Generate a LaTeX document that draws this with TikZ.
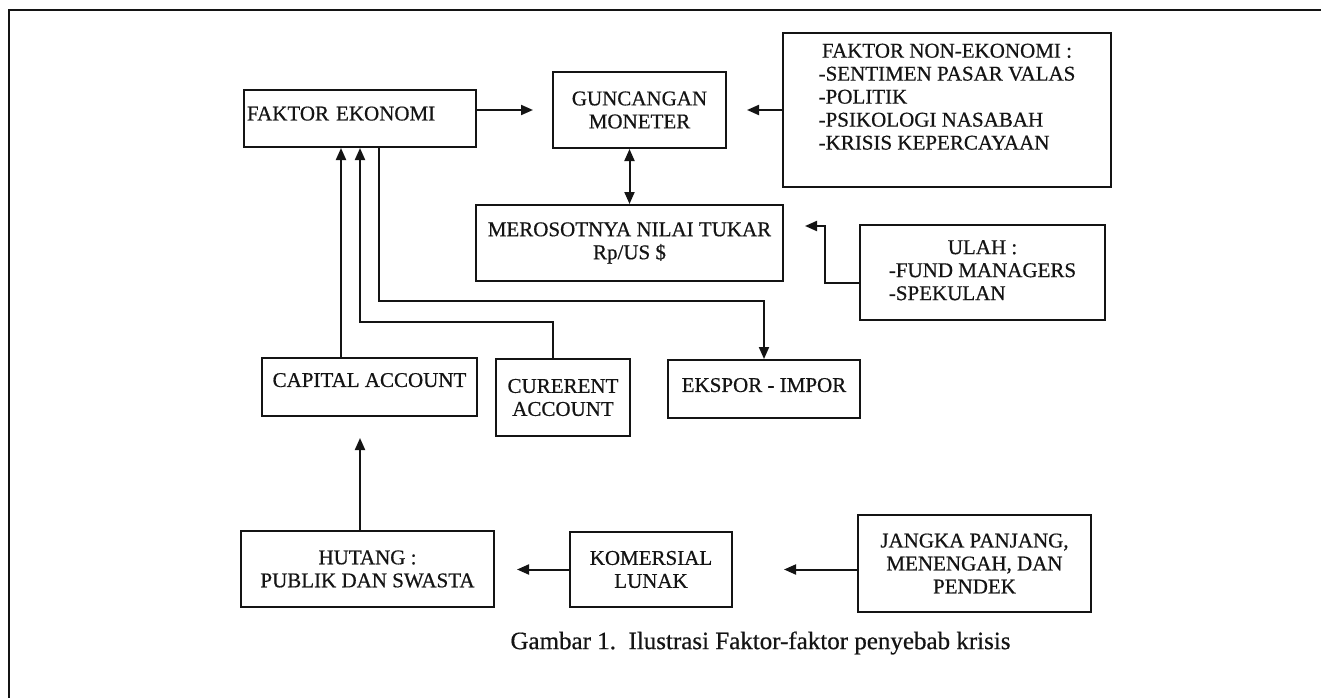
\documentclass[tikz,border=0pt]{standalone}
\usepackage{fontspec}
\setmainfont{Liberation Serif}[FakeBold=0.6]
\usetikzlibrary{arrows.meta}
\definecolor{inkblack}{RGB}{20, 20, 20}
\newcommand{\boxfont}{\fontsize{21}{23}\selectfont}
\newcommand{\capfont}{\fontsize{25}{28}\selectfont}
\tikzset{
  >=Triangle,
  box/.style={draw=inkblack, line width=2pt, inner sep=3pt, align=center, font=\boxfont, text=inkblack},
  flowarrow/.style={-{Triangle[length=12pt, width=10pt]}, line width=2pt, inkblack},
  twowayarrow/.style={{Triangle[length=12pt, width=10pt]}-{Triangle[length=12pt, width=10pt]}, line width=2pt, inkblack},
  frameline/.style={line width=2.2pt, inkblack}
}

\begin{document}
\begin{tikzpicture}[x=1pt, y=-1pt]
    \useasboundingbox (0,0) rectangle (1321,698);
    \draw[frameline] (1321,10) -- (9,10) -- (9,698);

    % --- TOP ROW ---
    \node[box, text width=226pt, minimum height=57pt, align=left, text depth=10pt] (fe) at (360,118.5) {FAKTOR EKONOMI};
    \node[box, minimum width=173pt, minimum height=76pt] (gm) at (639.5,110) {GUNCANGAN\\MONETER};
    \node[box, minimum width=328pt, minimum height=154pt] (nonek) at (947,110) {
        \begin{tabular}{@{}l@{}}
        \multicolumn{1}{@{}c@{}}{FAKTOR NON-EKONOMI :}\\
        -SENTIMEN PASAR VALAS\\
        -POLITIK\\
        -PSIKOLOGI NASABAH\\
        -KRISIS KEPERCAYAAN\\[22pt]
        \end{tabular}};

    % --- NILAI TUKAR ---
    \node[box, minimum width=307pt, minimum height=76pt] (mer) at (629.5,243) {MEROSOTNYA NILAI TUKAR\\Rp/US \$};
    \node[box, minimum width=245pt, minimum height=95pt] (ulah) at (982.5,272.5) {
        \begin{tabular}{@{}l@{}}
        \multicolumn{1}{@{}c@{}}{ULAH :}\\
        -FUND MANAGERS\\
        -SPEKULAN
        \end{tabular}};

    % --- ACCOUNTS ---
    \node[box, minimum width=215pt, minimum height=58pt, text depth=14pt] (cap) at (369.5,387) {CAPITAL ACCOUNT};
    \node[box, minimum width=134pt, minimum height=77pt] (cur) at (563,397.5) {CURERENT\\ACCOUNT};
    \node[box, minimum width=192pt, minimum height=58pt, text depth=8pt] (eks) at (764,389) {EKSPOR - IMPOR};

    % --- HUTANG ROW ---
    \node[box, minimum width=253pt, minimum height=76pt] (hut) at (367.5,569) {HUTANG :\\PUBLIK DAN SWASTA};
    \node[box, minimum width=162pt, minimum height=75pt] (kom) at (651,569.5) {KOMERSIAL\\LUNAK};
    \node[box, minimum width=233pt, minimum height=97pt] (jan) at (974.5,563.5) {JANGKA PANJANG,\\MENENGAH, DAN\\PENDEK};

    \node[font=\capfont, text=inkblack] (caption) at (760.5,643) {Gambar 1.\enspace Ilustrasi Faktor-faktor penyebab krisis};

    % Arrows into FAKTOR EKONOMI
    \coordinate (feleft) at ([xshift=-19pt]fe.south);
    \coordinate (feright) at ([xshift=19pt]fe.south);
    \draw[flowarrow] (cap.north -| feleft) -- (feleft);
    \draw[flowarrow] ([xshift=-10pt]cur.north) -- ++(0,-36) -| (fe.south);
    \draw[flowarrow] (feright) -- ++(0,153) -| (eks.north);

    % Arrows around GUNCANGAN MONETER
    \draw[flowarrow, shorten >=19pt] (fe.east |- gm.west) -- (gm.west);
    \draw[flowarrow, shorten >=20pt] (nonek.west |- gm.east) -- (gm.east);
    \draw[twowayarrow] (mer.north) -- (mer.north |- gm.south);
    \draw[flowarrow, shorten >=21pt] ([yshift=-10pt]ulah.west) -- ++(-34,0) |- ([yshift=17pt]mer.east);

    % Hutang chain
    \coordinate (hutup) at ([xshift=-7.5pt]hut.north);
    \draw[flowarrow, shorten >=21pt] (hutup) -- (cap.south -| hutup);
    \draw[flowarrow, shorten >=22pt] (kom.west) -- (hut.east |- kom.west);
    \draw[flowarrow, shorten >=51pt] (jan.west |- kom.east) -- (kom.east);
\end{tikzpicture}
\end{document}
